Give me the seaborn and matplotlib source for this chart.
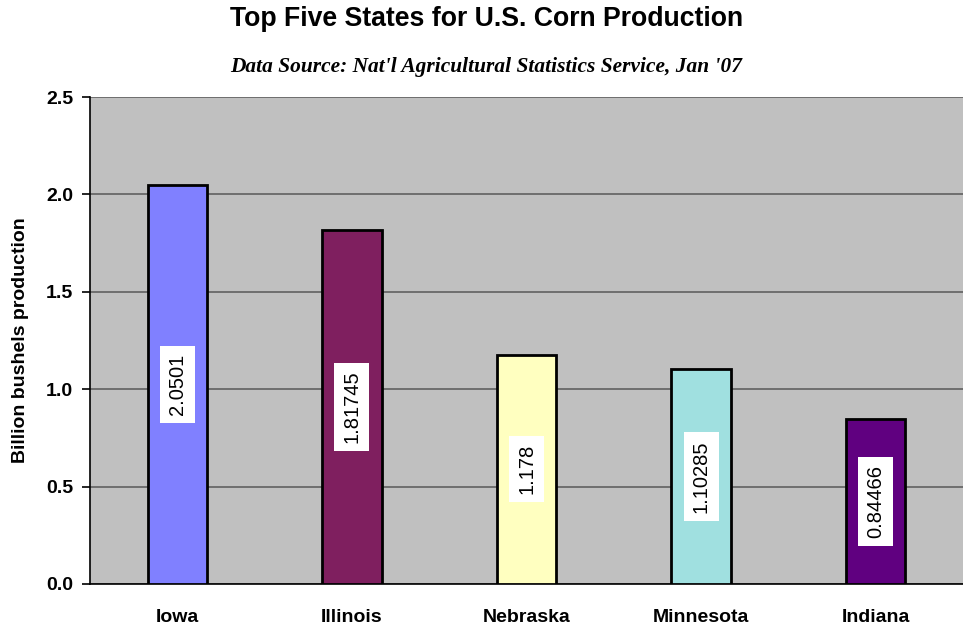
import matplotlib
matplotlib.use("Agg")
import matplotlib.pyplot as plt
import seaborn as sns
import pandas as pd

states = ["Iowa", "Illinois", "Nebraska", "Minnesota", "Indiana"]
production = [2.0501, 1.81745, 1.178, 1.10285, 0.84466]
labels = ["2.0501", "1.81745", "1.178", "1.10285", "0.84466"]
colors = ["#8080FF", "#7F1F5F", "#FFFFC0", "#A0E0E0", "#600080"]
yticks = [0.0, 0.5, 1.0, 1.5, 2.0, 2.5]

df = pd.DataFrame({"state": states, "production": production})

sns.set_style("white")
plt.rcParams["font.family"] = ["Liberation Sans", "DejaVu Sans"]
plt.rcParams["text.color"] = "black"
plt.rcParams["axes.labelcolor"] = "black"
plt.rcParams["xtick.color"] = "black"
plt.rcParams["ytick.color"] = "black"

fig = plt.figure(figsize=(9.63, 6.29), dpi=100)
fig.set_facecolor("white")
ax = fig.add_axes([90 / 963, 45 / 629, 873 / 963, 487 / 629])
ax.set_facecolor("#C0C0C0")

sns.barplot(data=df, x="state", y="production", hue="state", palette=colors,
            order=states, hue_order=states, width=0.34, edgecolor="black",
            linewidth=2, saturation=1, legend=False, ax=ax, zorder=3)

for i, (v, lab) in enumerate(zip(production, labels)):
    ax.text(i, v / 2, lab, rotation=90, ha="center", va="center", fontsize=14.5,
            color="black", zorder=5,
            bbox=dict(boxstyle="square,pad=0.4", fc="white", ec="none"))

ax.set_ylim(0, 2.5)
ax.set_xlim(-0.5, 4.5)
ax.set_yticks(yticks)
ax.set_yticklabels([f"{t:.1f}" for t in yticks], fontsize=14, fontweight="bold")
ax.yaxis.grid(True, color="#606060", linewidth=1.2, zorder=0)
ax.set_axisbelow(True)

ax.set_xticks(range(len(states)))
ax.set_xticklabels(states, fontsize=14, fontweight="bold")
ax.set_xticks([i - 0.5 for i in range(len(states) + 1)], minor=True)
ax.tick_params(axis="x", which="major", length=0, pad=18)
ax.tick_params(axis="x", which="minor", length=6, width=1.2, color="black", direction="out")
ax.tick_params(axis="y", which="major", length=6, width=1.2, color="black", direction="out",
               left=True, pad=6)

for s in ["top", "right"]:
    ax.spines[s].set_visible(False)
for s in ["left", "bottom"]:
    ax.spines[s].set_color("black")
    ax.spines[s].set_linewidth(1.2)

ax.set_xlabel("")
ax.set_ylabel("Billion bushels production", fontsize=14, fontweight="bold", labelpad=12)

fig.text(0.505, 0.97, "Top Five States for U.S. Corn Production", ha="center", va="center",
         fontsize=19.2, fontweight="bold")
fig.text(0.505, 0.893, "Data Source: Nat'l Agricultural Statistics Service, Jan '07",
         ha="center", va="center", fontsize=15.4, fontweight="bold", fontstyle="italic",
         family=["Liberation Serif", "DejaVu Serif"])

plt.savefig("out.png", dpi=100)
